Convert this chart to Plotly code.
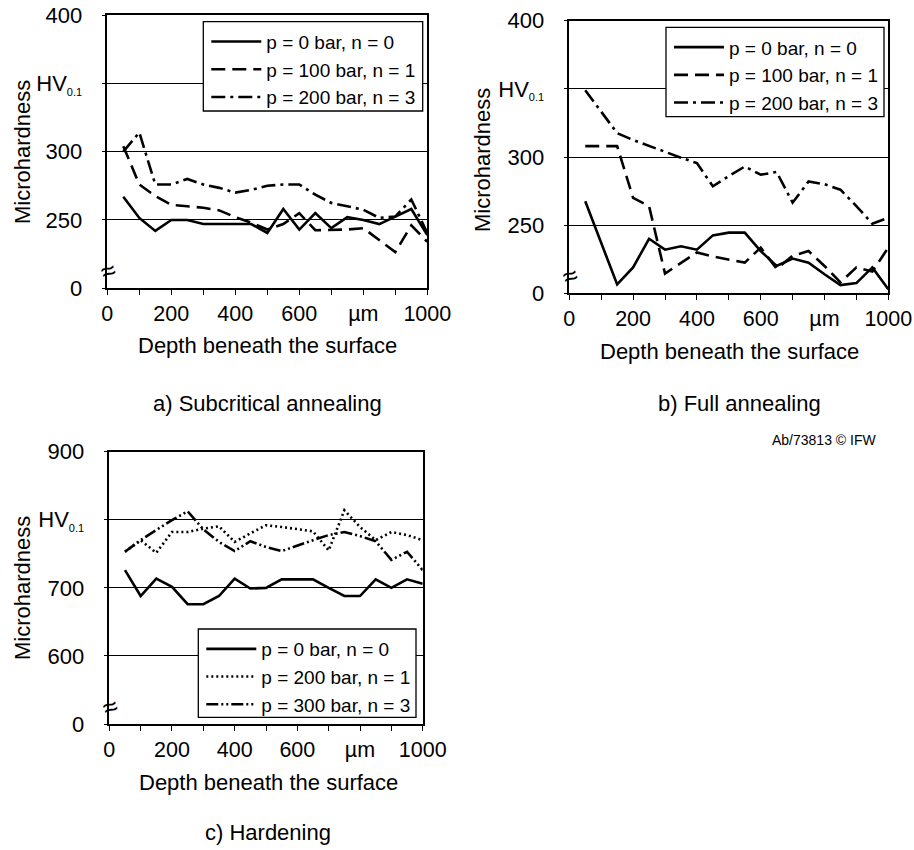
import plotly.graph_objects as go

W, H = 914, 850

depth = [50, 100, 150, 200, 250, 300, 350, 400, 450, 500,
         550, 600, 650, 700, 750, 800, 850, 900, 950, 1000]

# a) Subcritical annealing
a_p0 = [267, 251.5, 242, 250, 250, 247, 247, 247, 247, 240.5,
        258, 243, 255, 244, 252, 250, 247, 252.5, 258, 239]
a_p100 = [304, 276, 267.5, 261, 260, 259, 257, 252, 248, 243,
          247, 255, 242.5, 242.5, 243, 244, 235.5, 226.5, 246, 234]
a_p200 = [300, 314, 276, 276, 280, 276, 273.5, 270, 272, 275,
          276, 276, 268.5, 262.5, 260, 257.5, 251.5, 252.5, 265, 240.5]

# b) Full annealing
b_p0 = [267.5, 237, 206.5, 219, 240, 232, 234.5, 232, 242.5, 244.5,
        244.5, 231, 220, 225.5, 222.5, 214, 206, 207.5, 219, 203]
b_p100 = [308, 308, 308, 270, 264, 214.5, 222.5, 230, 227, 225,
          222.5, 233.5, 218, 227.5, 231, 220, 208, 219, 216, 233.5]
b_p200 = [349, 333.5, 317.5, 312.5, 308, 304, 299.5, 295.5, 278.5, 286,
          293, 287, 289, 266.5, 282, 280, 276, 264, 251, 255.5]

# c) Hardening
c_p0 = [726, 688, 713.5, 701.5, 676, 676, 688, 713.5, 699, 700,
        712.5, 712.5, 712.5, 700, 688, 688, 712.5, 700, 712.5, 706]
c_p200 = [753, 770, 751.5, 782, 782, 787, 790.5, 767.5, 780, 792,
          789.5, 786, 783, 755, 814, 789.5, 770, 782, 777.5, 770]
c_p300 = [753, 770, 785, 799.5, 812.5, 786, 767.5, 754, 768.5, 760,
          754, 762.5, 770, 777.5, 782, 776, 768.5, 741, 753, 726]

x_tickvals = [0, 200, 400, 600, 800, 1000]
x_ticktext = ["0", "200", "400", "600", "µm", "1000"]
x_minorvals = [100, 300, 500, 700, 900]

HV = "HV<sub><span style='font-size:11px'>0.1</span></sub>"
ya_tickvals = [200, 250, 300, 350, 400]
ya_ticktext = ["0", "250", "300", HV, "400"]
yc_tickvals = [500, 600, 700, 800, 900]
yc_ticktext = ["0", "600", "700", HV, "900"]

FONT = "Liberation Sans, Arial, sans-serif"
LW = 2.6
DASH = "14px,7px"
DASHDOT = "14px,5px,3px,5px"
DOT = "2px,3px"
DASHDOTDOT = "12px,3px,2px,3px,2px,3px"

fig = go.Figure()

def add(x, y, name, dash, xa, ya, legend):
    fig.add_trace(go.Scatter(x=x, y=y, name=name, mode="lines",
                             line=dict(color="black", width=LW, dash=dash),
                             xaxis=xa, yaxis=ya, legend=legend))

add(depth, a_p0, "p = 0 bar, n = 0", "solid", "x", "y", "legend")
add(depth, a_p100, "p = 100 bar, n = 1", DASH, "x", "y", "legend")
add(depth, a_p200, "p = 200 bar, n = 3", DASHDOT, "x", "y", "legend")

add(depth, b_p0, "p = 0 bar, n = 0", "solid", "x2", "y2", "legend2")
add(depth, b_p100, "p = 100 bar, n = 1", DASH, "x2", "y2", "legend2")
add(depth, b_p200, "p = 200 bar, n = 3", DASHDOT, "x2", "y2", "legend2")

add(depth, c_p0, "p = 0 bar, n = 0", "solid", "x3", "y3", "legend3")
add(depth, c_p200, "p = 200 bar, n = 1", DOT, "x3", "y3", "legend3")
add(depth, c_p300, "p = 300 bar, n = 3", DASHDOTDOT, "x3", "y3", "legend3")


def px_x(v):
    return v / W


def px_y(v):
    return 1 - v / H


def xaxis(dom, anchor):
    return dict(domain=dom, anchor=anchor, range=[0, 1000], automargin=False,
                tickmode="array", tickvals=x_tickvals, ticktext=x_ticktext,
                ticks="outside", ticklen=5, tickwidth=1.3, tickcolor="black",
                minor=dict(tickmode="array", tickvals=x_minorvals, ticks="outside",
                           ticklen=5, tickwidth=1.3, tickcolor="black", showgrid=False),
                showline=True, linecolor="black", linewidth=1.5, mirror=True,
                showgrid=False, zeroline=False,
                tickfont=dict(family=FONT, size=21.5, color="black"))


def yaxis(dom, anchor, rng, tv, tt):
    return dict(domain=dom, anchor=anchor, range=rng, automargin=False,
                tickmode="array", tickvals=tv, ticktext=tt,
                ticks="outside", ticklen=4, tickwidth=1.3, tickcolor="black",
                ticklabelstandoff=15,
                showline=True, linecolor="black", linewidth=1.5, mirror=True,
                showgrid=True, gridcolor="black", gridwidth=1.2, zeroline=False,
                tickfont=dict(family=FONT, size=22, color="black"))


# legend boxes (left, top, right, bottom) in page pixels
boxes = {
    "legend": (203.3, 21.7, 422.7, 111),
    "legend2": (666, 27.3, 884, 116.7),
    "legend3": (198.3, 629, 416, 717.3),
}

legends = {}
shapes = []
for key, (l, t, r, b) in boxes.items():
    legends[key] = dict(x=px_x(l + 3), y=px_y(t + 1), xanchor="left", yanchor="top",
                        bgcolor="rgba(0,0,0,0)", borderwidth=0, itemwidth=50,
                        font=dict(family=FONT, size=19, color="black"))
    shapes.append(dict(type="rect", xref="paper", yref="paper",
                       x0=px_x(l), x1=px_x(r), y0=px_y(b), y1=px_y(t),
                       line=dict(color="black", width=1.3), fillcolor="white",
                       layer="above"))

TITLE = dict(family=FONT, size=22, color="black")

annotations = [
    dict(text="Microhardness", x=px_x(22), y=px_y(152), textangle=-90, font=TITLE),
    dict(text="Microhardness", x=px_x(482), y=px_y(160), textangle=-90, font=TITLE),
    dict(text="Microhardness", x=px_x(22), y=px_y(588), textangle=-90, font=TITLE),
    dict(text="Depth beneath the surface", x=px_x(267), y=px_y(346), font=TITLE),
    dict(text="Depth beneath the surface", x=px_x(729), y=px_y(351), font=TITLE),
    dict(text="Depth beneath the surface", x=px_x(268), y=px_y(782), font=TITLE),
    dict(text="a) Subcritical annealing", x=px_x(267), y=px_y(403), font=TITLE),
    dict(text="b) Full annealing", x=px_x(739), y=px_y(403), font=TITLE),
    dict(text="c) Hardening", x=px_x(268), y=px_y(832), font=TITLE),
    dict(text="Ab/73813 © IFW", x=px_x(878), y=px_y(440), xanchor="right",
         font=dict(family=FONT, size=14, color="black")),
    dict(text="≈", x=px_x(108), y=px_y(271), textangle=-20,
         font=dict(family=FONT, size=26, color="black")),
    dict(text="≈", x=px_x(570), y=px_y(276), textangle=-20,
         font=dict(family=FONT, size=26, color="black")),
    dict(text="≈", x=px_x(110), y=px_y(707), textangle=-20,
         font=dict(family=FONT, size=26, color="black")),
]
for a in annotations:
    a.update(xref="paper", yref="paper", showarrow=False)
    a.setdefault("xanchor", "center")
    a.setdefault("yanchor", "middle")

fig.update_layout(
    template="none",
    width=W, height=H,
    margin=dict(l=0, r=0, t=0, b=0, pad=0, autoexpand=False),
    paper_bgcolor="white", plot_bgcolor="white",
    font=dict(family=FONT, color="black"),
    xaxis=xaxis([px_x(107.3), px_x(427.3)], "y"),
    yaxis=yaxis([px_y(288.3), px_y(15)], "x", [200, 400], ya_tickvals, ya_ticktext),
    xaxis2=xaxis([px_x(569.3), px_x(888.3)], "y2"),
    yaxis2=yaxis([px_y(293.3), px_y(20.7)], "x2", [200, 400], ya_tickvals, ya_ticktext),
    xaxis3=xaxis([px_x(109.3), px_x(422.7)], "y3"),
    yaxis3=yaxis([px_y(724), px_y(451.7)], "x3", [500, 900], yc_tickvals, yc_ticktext),
    shapes=shapes,
    annotations=annotations,
    showlegend=True,
    **legends,
)

fig.write_html("out.html",
               config={"displayModeBar": False},
               post_script="document.body.style.margin='0';"
                           "document.body.style.overflow='hidden';")
